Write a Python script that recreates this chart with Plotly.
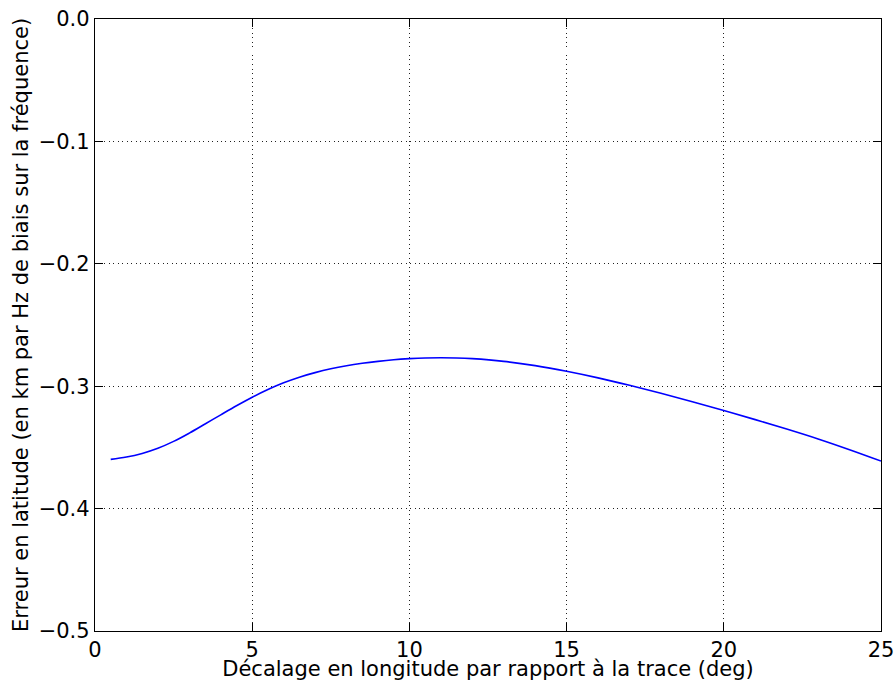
import plotly.graph_objects as go

x_vals = [0.5, 1.0, 1.5, 2.0, 2.5, 3.0, 3.5, 4.0, 4.5, 5.0, 5.5, 6.0, 6.5, 7.0, 7.5, 8.0, 8.5, 9.0, 9.5, 10.0, 10.5, 11.0, 11.5,
          12.0, 13.0, 14.0, 15.0, 16.0, 17.0, 18.0, 19.0, 20.0, 21.0, 22.0, 23.0, 24.0, 25.0]
y_vals = [-0.3598, -0.3579, -0.3549, -0.3507, -0.3451, -0.3383, -0.3309, -0.3234, -0.3160, -0.3090, -0.3027, -0.2972,
          -0.2926, -0.2889, -0.2858, -0.2833, -0.2813, -0.2797, -0.2784, -0.2775, -0.2769, -0.2767, -0.2769,
          -0.2775, -0.2797, -0.2832, -0.2878, -0.2932, -0.2993, -0.3058, -0.3127, -0.3199, -0.3273, -0.3350,
          -0.3431, -0.3519, -0.3612]

x_ticks = [0, 5, 10, 15, 20, 25]
x_tick_labels = ["0", "5", "10", "15", "20", "25"]
y_ticks = [0.0, -0.1, -0.2, -0.3, -0.4, -0.5]
y_tick_labels = ["0.0", "\u22120.1", "\u22120.2", "\u22120.3", "\u22120.4", "\u22120.5"]

x_title = "Décalage en longitude par rapport à la trace (deg)"
y_title = "Erreur en latitude (en km par Hz de biais sur la fréquence)"

fig = go.Figure()
fig.add_trace(go.Scatter(x=x_vals, y=y_vals, mode="lines",
                         line=dict(color="#0000ff", width=1.6, shape="spline", smoothing=1.0),
                         showlegend=False))

font = dict(family="DejaVu Sans", size=21, color="black")
axis_common = dict(showline=True, linecolor="black", linewidth=1.3, mirror="ticks",
                   ticks="inside", ticklen=8, tickwidth=1, tickcolor="black",
                   showgrid=True, gridcolor="#222222", gridwidth=1, griddash="1px,3.5px",
                   zeroline=False, tickfont=font, automargin=False,
                   ticklabeloverflow="allow")

fig.update_layout(
    width=895, height=681,
    margin=dict(l=95, r=14, t=19, b=50),
    paper_bgcolor="white", plot_bgcolor="white",
    font=font,
    xaxis=dict(range=[0, 25], tickvals=x_ticks, ticktext=x_tick_labels,
               title=dict(text=x_title, font=font),
               **axis_common),
    yaxis=dict(range=[-0.5, 0], tickvals=y_ticks, ticktext=y_tick_labels,
               **axis_common),
    annotations=[dict(text=y_title, xref="paper", yref="paper", x=0, y=0.5,
                      xanchor="center", yanchor="middle", xshift=-74, textangle=-90,
                      showarrow=False, font=font)],
)

fig.write_html("out.html", config={"displayModeBar": False},
               post_script="document.body.style.margin='0';document.body.style.overflow='hidden';")
